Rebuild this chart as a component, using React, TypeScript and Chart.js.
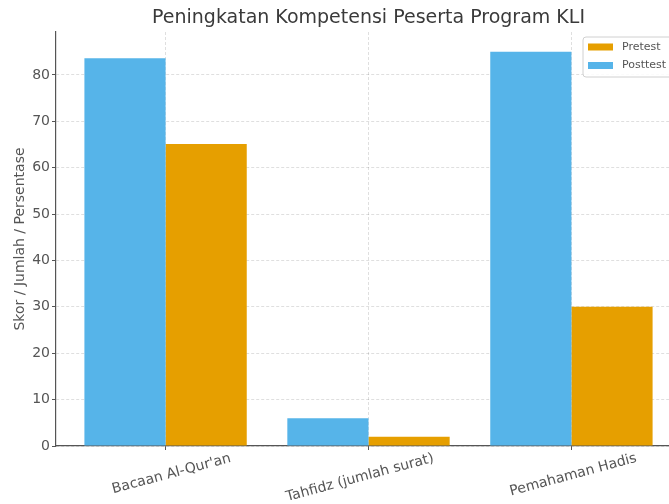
import React, { useEffect, useRef } from "react";
import { Chart, registerables } from "chart.js";

Chart.register(...registerables);

const title = "Peningkatan Kompetensi Peserta Program KLI";
const yAxisTitle = "Skor / Jumlah / Persentase";
const categories = ["Bacaan Al-Qur'an", "Tahfidz (jumlah surat)", "Pemahaman Hadis"];
const pretest = [65.1, 2, 30];
const posttest = [83.6, 6, 85];
const seriesNames = ["Pretest", "Posttest"];
const seriesColors = ["#E69F00", "#56B4E9"];
const yMax = 89.25;
const yStep = 10;

const FONT = '"DejaVu Sans", "Liberation Sans", sans-serif';

const titlePlugin = {
  id: "titleCentered",
  afterDraw(chart: any) {
    const { ctx, chartArea } = chart;
    ctx.save();
    ctx.font = `19px ${FONT}`;
    ctx.fillStyle = "#3a3a3a";
    ctx.textAlign = "center";
    ctx.textBaseline = "alphabetic";
    ctx.fillText(title, (chartArea.left + chartArea.right) / 2, 23);
    ctx.restore();
  },
};

const legendPlugin = {
  id: "boxLegend",
  afterDraw(chart: any) {
    const { ctx, chartArea } = chart;
    const x = chartArea.right - 98;
    const y = chartArea.top + 5;
    const w = 110;
    const h = 40;
    ctx.save();
    ctx.beginPath();
    const r = 3;
    ctx.moveTo(x + r, y);
    ctx.lineTo(x + w - r, y);
    ctx.arcTo(x + w, y, x + w, y + r, r);
    ctx.lineTo(x + w, y + h - r);
    ctx.arcTo(x + w, y + h, x + w - r, y + h, r);
    ctx.lineTo(x + r, y + h);
    ctx.arcTo(x, y + h, x, y + h - r, r);
    ctx.lineTo(x, y + r);
    ctx.arcTo(x, y, x + r, y, r);
    ctx.closePath();
    ctx.fillStyle = "rgba(255,255,255,0.85)";
    ctx.fill();
    ctx.strokeStyle = "#d0d0d0";
    ctx.lineWidth = 1;
    ctx.stroke();
    ctx.font = `11px ${FONT}`;
    ctx.textBaseline = "middle";
    ctx.textAlign = "left";
    seriesNames.forEach((name, i) => {
      const cy = y + 10 + i * 18.5;
      ctx.fillStyle = seriesColors[i];
      ctx.fillRect(x + 5, cy - 3.5, 25, 7);
      ctx.fillStyle = "#555";
      ctx.fillText(name, x + 39, cy);
    });
    ctx.restore();
  },
};

export default function App() {
  const canvasRef = useRef<HTMLCanvasElement | null>(null);

  useEffect(() => {
    if (!canvasRef.current) return;
    const chart = new Chart(canvasRef.current, {
      type: "bar",
      data: {
        datasets: [
          {
            label: seriesNames[1],
            data: posttest.map((v, i) => ({ x: i, y: v })),
            backgroundColor: seriesColors[1],
            borderWidth: 0,
          },
          {
            label: seriesNames[0],
            data: pretest.map((v, i) => ({ x: i, y: v })),
            backgroundColor: seriesColors[0],
            borderWidth: 0,
          },
        ],
      },
      options: {
        animation: false,
        responsive: true,
        maintainAspectRatio: false,
        layout: { padding: { top: 32, right: 19, left: 0, bottom: 0 } },
        datasets: { bar: { categoryPercentage: 0.8, barPercentage: 1.0 } },
        plugins: {
          legend: { display: false },
          title: { display: false },
          tooltip: { enabled: false },
        },
        scales: {
          x: {
            type: "linear",
            min: -0.54,
            max: 2.54,
            offset: false,
            grid: {
              offset: false,
              color: "rgba(0,0,0,0.16)",
              lineWidth: 0.8,
              tickColor: "#555",
              tickLength: 4,
              tickWidth: 1,
              tickBorderDash: [],
            } as any,
            border: { display: true, color: "#555", width: 1.2, dash: [3, 2] },
            ticks: {
              stepSize: 1,
              includeBounds: false,
              autoSkip: false,
              minRotation: 15,
              maxRotation: 15,
              labelOffset: 65,
              padding: 0,
              color: "#555",
              font: { family: FONT, size: 14 },
              callback: (v: any) => {
                const i = Math.round(Number(v));
                return Math.abs(Number(v) - i) < 1e-6 && categories[i] ? categories[i] : "";
              },
            },
            afterFit: (scale: any) => {
              scale.height = 58;
            },
          } as any,
          y: {
            min: 0,
            max: yMax,
            grid: {
              color: "rgba(0,0,0,0.16)",
              lineWidth: 0.8,
              tickColor: "#555",
              tickLength: 4,
              tickWidth: 1,
              tickBorderDash: [],
            } as any,
            border: { display: true, color: "#555", width: 1.2, dash: [3, 2] },
            ticks: {
              stepSize: yStep,
              includeBounds: false,
              padding: 2,
              color: "#555",
              font: { family: FONT, size: 14 },
            },
            title: {
              display: true,
              text: yAxisTitle,
              color: "#555",
              font: { family: FONT, size: 14 },
              padding: { top: 12, bottom: 0 },
            },
            afterFit: (scale: any) => {
              scale.width = 56;
            },
          } as any,
        },
      },
      plugins: [titlePlugin, legendPlugin],
    });
    return () => chart.destroy();
  }, []);

  return (
    <div
      style={{
        position: "fixed",
        left: 0,
        top: 0,
        width: 669,
        height: 504,
        overflow: "hidden",
        background: "#fff",
      }}
    >
      <div style={{ position: "relative", width: 700, height: 504 }}>
        <canvas ref={canvasRef} />
      </div>
    </div>
  );
}
